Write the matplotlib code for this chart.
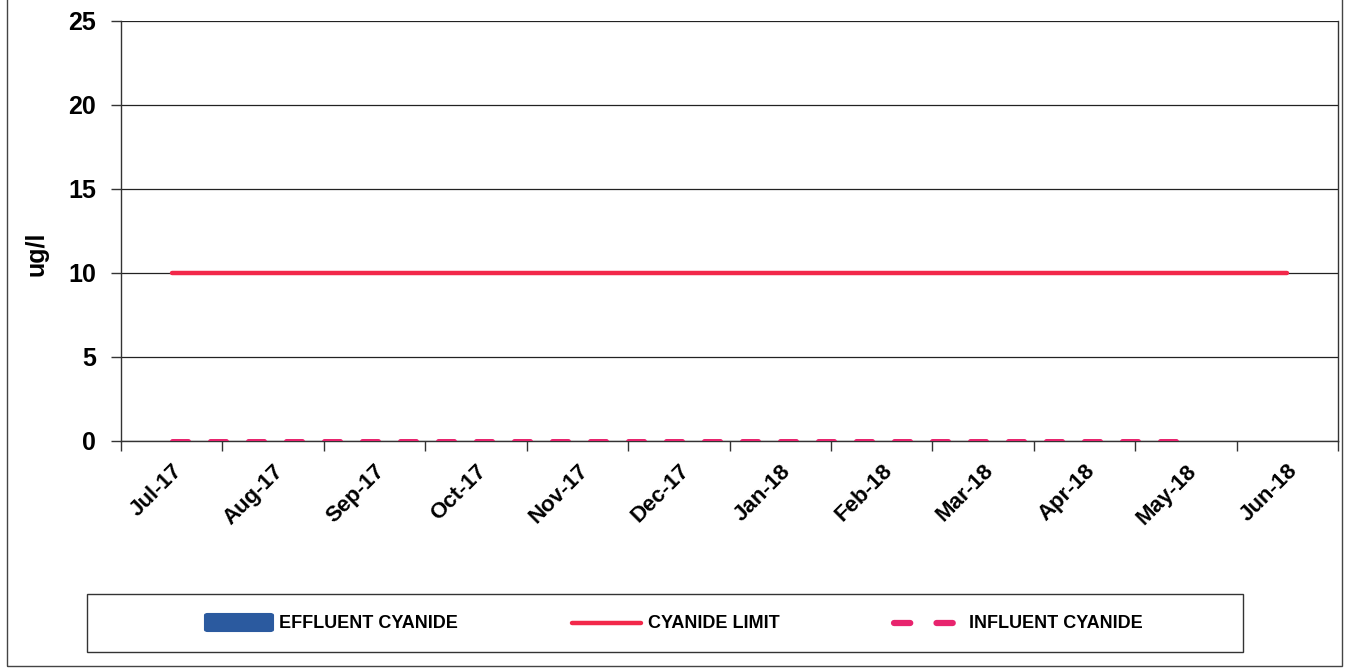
import numpy as np
import matplotlib
matplotlib.use("Agg")
import matplotlib.pyplot as plt
from matplotlib.lines import Line2D
from matplotlib.patches import Rectangle, FancyBboxPatch
from matplotlib.transforms import ScaledTranslation

months = ["Jul-17", "Aug-17", "Sep-17", "Oct-17", "Nov-17", "Dec-17",
          "Jan-18", "Feb-18", "Mar-18", "Apr-18", "May-18", "Jun-18"]
effluent_cyanide = [np.nan] * 12
cyanide_limit = [10, 10, 10, 10, 10, 10, 10, 10, 10, 10, 10, 10]
influent_cyanide = [0, 0, 0, 0, 0, 0, 0, 0, 0, 0, 0, np.nan]
y_ticks = [0, 5, 10, 15, 20, 25]
series_names = ["EFFLUENT CYANIDE", "CYANIDE LIMIT", "INFLUENT CYANIDE"]

BLUE = "#2b5a9f"
RED = "#f2284a"
PINK = "#e8246e"

W, H = 1346, 669
fig = plt.figure(figsize=(W / 100, H / 100), dpi=100)
fig.patch.set_facecolor("white")

bold = dict(family=["Liberation Sans", "DejaVu Sans"], weight="bold")


def fx(px):
    return px / W


def fy(py):
    return 1 - py / H


# outer chart frame
fig.add_artist(Rectangle((fx(7), fy(666)), fx(1342 - 7), 700 / H,
                         transform=fig.transFigure, fill=False,
                         edgecolor="#444444", lw=1.0, clip_on=False))

ax = fig.add_axes([fx(121), fy(441), fx(1338 - 121), (441 - 21) / H])
x = np.arange(len(months))

ax.plot(x, effluent_cyanide, color=BLUE, lw=7, zorder=3)
ax.plot(x, cyanide_limit, color=RED, lw=3.2, solid_capstyle="round", zorder=4)
ax.plot(x, influent_cyanide, color=PINK, lw=3.6, dashes=(3.2, 4.4),
        dash_capstyle="round", zorder=5)

ax.set_xlim(-0.5, len(months) - 0.5)
ax.set_ylim(0, 25)
ax.set_yticks(y_ticks)
ax.set_yticklabels([str(v) for v in y_ticks], fontsize=18, **bold)
ax.grid(axis="y", color="#222222", lw=0.9)
ax.set_axisbelow(True)

ax.set_xticks(x)
ax.set_xticklabels(months, rotation=45, ha="right", rotation_mode="anchor",
                   fontsize=16, **bold)
shift = ScaledTranslation(-4 / 100, -3 / 100, fig.dpi_scale_trans)
for lbl in ax.get_xticklabels():
    lbl.set_transform(lbl.get_transform() + shift)
ax.set_xticks(np.arange(len(months) + 1) - 0.5, minor=True)
ax.tick_params(axis="x", which="major", length=0, pad=14)
ax.tick_params(axis="x", which="minor", length=7, width=1, color="#333333", direction="out")
ax.tick_params(axis="y", length=7, width=1, color="#333333", pad=11)

for side in ["left", "bottom", "right"]:
    ax.spines[side].set_color("#333333")
    ax.spines[side].set_linewidth(1.0)
ax.spines["top"].set_visible(False)

ax.set_ylabel("ug/l", fontsize=18, **bold)
ax.yaxis.set_label_coords(-73 / (1338 - 121), (441 - 254) / (441 - 21))

# legend box with the three series keys
fig.add_artist(Rectangle((fx(87), fy(652)), fx(1243 - 87), (652 - 594) / H,
                         transform=fig.transFigure, fill=False,
                         edgecolor="#333333", lw=1.0))
ly = fy(623)
fig.add_artist(FancyBboxPatch((fx(205), fy(631)), fx(68), 17 / H,
                              boxstyle="round,pad=0,rounding_size=0.002",
                              transform=fig.transFigure, facecolor=BLUE,
                              edgecolor=BLUE, lw=1.5))
fig.add_artist(Line2D([fx(572), fx(641)], [ly, ly], transform=fig.transFigure,
                      color=RED, lw=3.2, solid_capstyle="round"))
fig.add_artist(Line2D([fx(894), fx(954)], [ly, ly], transform=fig.transFigure,
                      color=PINK, lw=4.5, dashes=(2.6, 4.2), dash_capstyle="round"))
for tx, name in zip([279, 648, 969], series_names):
    fig.text(fx(tx), ly, name, ha="left", va="center", fontsize=13, **bold)

fig.savefig("out.png", dpi=100)
